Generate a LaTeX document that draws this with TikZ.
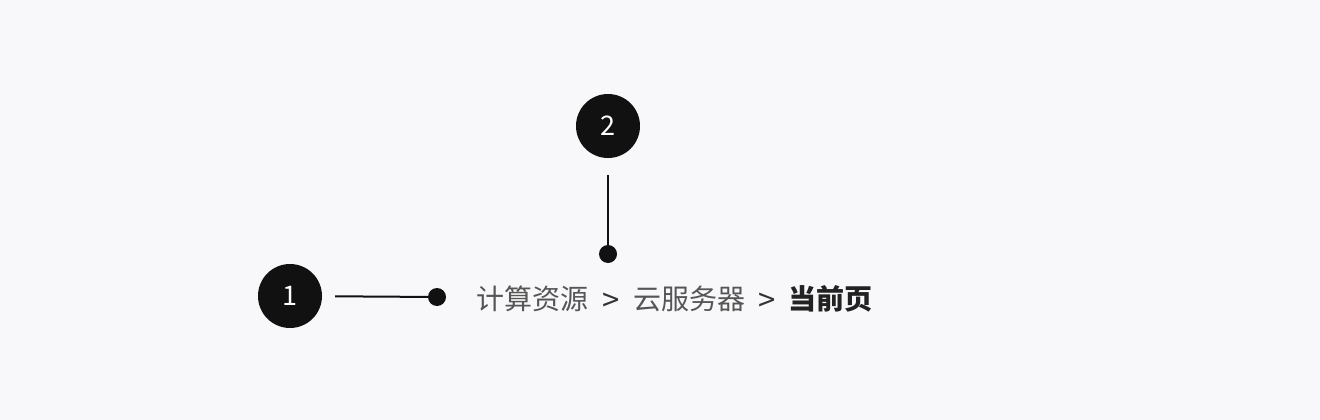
\documentclass[tikz,border=0pt]{standalone}
\usepackage{fontspec}
\setmainfont{Noto Sans CJK SC}
\usetikzlibrary{positioning}
\definecolor{bgpage}{HTML}{F8F8FA}
\definecolor{inkdark}{HTML}{111111}
\definecolor{crumbgray}{HTML}{555555}
\definecolor{sepgray}{HTML}{333333}
\definecolor{crumbcur}{HTML}{222222}

\begin{document}
\begin{tikzpicture}[x=1pt, y=-1pt,
  marker/.style={circle, fill=inkdark, minimum size=64pt, inner sep=0pt, text=white, font=\fontsize{27}{27}\selectfont},
  crumb/.style={inner sep=0pt, text=crumbgray, font=\fontsize{28}{28}\selectfont},
  crumbsep/.style={inner sep=0pt, text=sepgray, font=\fontsize{31}{31}\selectfont},
  current/.style={inner sep=0pt, text=crumbcur, font=\fontsize{28}{28}\selectfont\bfseries},
  pin/.style={circle, fill=inkdark, minimum size=18pt, inner sep=0pt},
  leader/.style={draw=inkdark, line width=2pt}]
\fill [bgpage] (0, 0) rectangle (1320, 420);
\useasboundingbox (0, 0) rectangle (1320, 420);
% breadcrumb
\node [crumb, anchor=base west] (res) at (476, 309) {计算资源};
\node [crumbsep, right=14pt of res.base east, anchor=base west, yshift=-2pt] (sepA) {>};
\node [crumb, right=13pt of sepA.base east, anchor=base west, yshift=2pt] (cvm) {云服务器};
\node [crumbsep, right=13pt of cvm.base east, anchor=base west, yshift=-2pt] (sepB) {>};
\node [current, right=12pt of sepB.base east, anchor=base west, yshift=2pt] (page) {当前页};
% markers
\node [marker] (one) at (290, 296) {1};
\node [marker] (two) at (608, 126) {2};
\node [pin] (pinA) at (437, 297) {};
\node [pin] (pinB) at (608, 254) {};
\draw [leader, shorten <=13pt] (one) -- (pinA);
\draw [leader, shorten <=17pt] (two) -- (pinB);
\end{tikzpicture}
\end{document}
